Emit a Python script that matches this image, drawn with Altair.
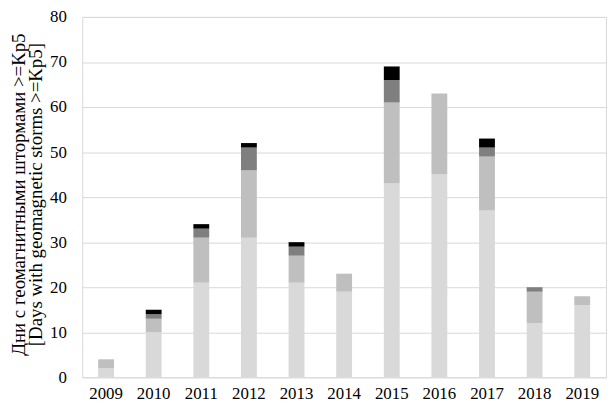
import altair as alt
import pandas as pd

years = ["2009", "2010", "2011", "2012", "2013", "2014", "2015", "2016", "2017", "2018", "2019"]
level1 = [2, 10, 21, 31, 21, 19, 43, 45, 37, 12, 16]
level2 = [2, 3, 10, 15, 6, 4, 18, 18, 12, 7, 2]
level3 = [0, 1, 2, 5, 2, 0, 5, 0, 2, 1, 0]
level4 = [0, 1, 1, 1, 1, 0, 3, 0, 2, 0, 0]
series_names = ["Kp5", "Kp6", "Kp7", "Kp8"]
series_colors = ["#d9d9d9", "#bfbfbf", "#7f7f7f", "#000000"]

rows = []
for i, y in enumerate(years):
    for k, vals in enumerate([level1, level2, level3, level4]):
        rows.append({"year": y, "series": series_names[k], "order": k, "value": vals[i]})
df = pd.DataFrame(rows)

font = "Liberation Serif"

chart = alt.Chart(df).mark_bar(size=16).encode(
    x=alt.X("year:N", sort=years, title=None,
            scale=alt.Scale(paddingInner=0.67, paddingOuter=0.335),
            axis=alt.Axis(labelAngle=0, ticks=False, domain=False, labelPadding=8,
                          labelFontSize=17, labelFont=font, labelColor="#000")),
    y=alt.Y("value:Q", stack="zero",
            scale=alt.Scale(domain=[0, 80], nice=False),
            axis=alt.Axis(values=list(range(0, 81, 10)), ticks=False, domain=False,
                          labelPadding=16, labelFontSize=17, labelFont=font, labelColor="#000",
                          gridColor="#d9d9d9", gridWidth=1,
                          title=["Дни с геомагнитными штормами >=Kp5", "[Days with geomagnetic storms >=Kp5]"],
                          titleFont=font, titleFontSize=19, titleFontWeight="normal", titleColor="#000",
                          titleLineHeight=17, titleX=-64, titleY=179, titleAngle=-90,
                          titleAlign="center", titleBaseline="middle")),
    color=alt.Color("series:N", sort=series_names,
                    scale=alt.Scale(domain=series_names, range=series_colors), legend=None),
    order=alt.Order("order:Q", sort="ascending"),
).properties(
    width=529, height=364,
    autosize=alt.AutoSizeParams(type="none"),
    padding={"left": 75, "top": 7, "right": 2, "bottom": 30},
).configure_view(stroke="#d9d9d9", strokeWidth=1)

chart.save("out.html", embed_options={"renderer": "svg", "actions": False})
